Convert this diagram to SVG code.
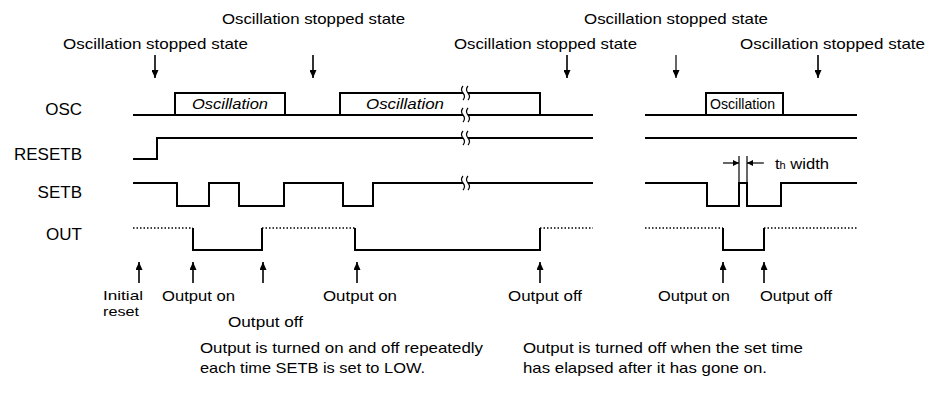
<svg xmlns="http://www.w3.org/2000/svg" width="935" height="405" viewBox="0 0 935 405">
<style>
  text { font-family: "Liberation Sans", Arial, sans-serif; fill: #000; }
  .lbl { font-size: 17px; text-anchor: end; }
  .top { font-size: 15px; }
  .note { font-size: 15px; }
  .small { font-size: 13px; }
  .osc { font-size: 15px; font-style: italic; }
  .w { fill: none; stroke: #000; stroke-width: 2; stroke-linejoin: miter; }
  .dot { fill: none; stroke: #000; stroke-width: 1.3; stroke-dasharray: 1.5 2; }
  .arr { stroke: #000; stroke-width: 1.6; fill: none; }
  .thin { stroke: #000; stroke-width: 1.2; fill: none; }
  .brk { fill: none; stroke: #000; stroke-width: 1.2; }
</style>
<defs>
  <marker id="ah" viewBox="0 0 8 7" refX="8" refY="3.5" markerWidth="8" markerHeight="7" orient="auto" markerUnits="userSpaceOnUse">
    <path d="M0,0 L8,3.5 L0,7 z" fill="#000"/>
  </marker>
  <marker id="ahs" viewBox="0 0 6 6" refX="6" refY="3" markerWidth="6" markerHeight="6" orient="auto" markerUnits="userSpaceOnUse">
    <path d="M0,0 L6,3 L0,6 z" fill="#000"/>
  </marker>
</defs>

<!-- Signal labels -->
<g id="labels">
  <text class="lbl" x="82" y="115">OSC</text>
  <text class="lbl" x="82" y="160">RESETB</text>
  <text class="lbl" x="82" y="198">SETB</text>
  <text class="lbl" x="82" y="240">OUT</text>
</g>

<!-- Top state labels -->
<g id="state-labels">
  <text class="top" x="222" y="24" textLength="183" lengthAdjust="spacingAndGlyphs">Oscillation stopped state</text>
  <text class="top" x="63" y="49" textLength="185" lengthAdjust="spacingAndGlyphs">Oscillation stopped state</text>
  <text class="top" x="584" y="24" textLength="184" lengthAdjust="spacingAndGlyphs">Oscillation stopped state</text>
  <text class="top" x="454" y="49" textLength="183" lengthAdjust="spacingAndGlyphs">Oscillation stopped state</text>
  <text class="top" x="740" y="49" textLength="185" lengthAdjust="spacingAndGlyphs">Oscillation stopped state</text>
</g>

<!-- OSC waveform -->
<g id="osc">
  <path class="w" d="M133,115 H463 M468,115 H593"/>
  <path class="w" d="M175,115 V93 H285 V115"/>
  <path class="w" d="M340,115 V93 H463 M468,93 H540 V115"/>
  <text class="osc" x="192" y="109" textLength="76" lengthAdjust="spacingAndGlyphs">Oscillation</text>
  <text class="osc" x="366" y="109" textLength="78" lengthAdjust="spacingAndGlyphs">Oscillation</text>
  <path class="w" d="M645,115 H857 M706,115 V93 H783 V115"/>
  <text x="710" y="109" font-size="14" textLength="65" lengthAdjust="spacingAndGlyphs">Oscillation</text>
</g>

<!-- RESETB waveform -->
<g id="resetb">
  <path class="w" d="M133,159 H157 V138 H463 M468,138 H593"/>
  <path class="w" d="M645,138 H857"/>
</g>

<!-- SETB waveform -->
<g id="setb">
  <path class="w" d="M133,183 H177 V206 H209 V183 H239 V206 H284 V183 H343 V206 H373 V183 H463 M468,183 H593"/>
  <path class="w" d="M645,183 H707 V206 H739 V183 H747 V206 H781 V183 H857"/>
</g>

<!-- OUT waveform -->
<g id="out">
  <path class="dot" d="M133,228 H193 M262,228 H355 M540,228 H593 M645,228 H723 M764,228 H857"/>
  <path class="w" d="M193,228 V250 H262 V228 M355,228 V250 H540 V228"/>
  <path class="w" d="M723,228 V250 H764 V228"/>
</g>

<!-- Break marks -->
<g id="breaks">
  <path class="brk" d="M463,86 q-3,3.5 0,7 q3,3.5 0,7 M468,86 q-3,3.5 0,7 q3,3.5 0,7"/>
  <path class="brk" d="M463,108 q-3,3.5 0,7 q3,3.5 0,7 M468,108 q-3,3.5 0,7 q3,3.5 0,7"/>
  <path class="brk" d="M463,131 q-3,3.5 0,7 q3,3.5 0,7 M468,131 q-3,3.5 0,7 q3,3.5 0,7"/>
  <path class="brk" d="M463,176 q-3,3.5 0,7 q3,3.5 0,7 M468,176 q-3,3.5 0,7 q3,3.5 0,7"/>
</g>

<!-- Connectors: annotation arrows -->
<g id="connectors">
  <line class="arr" x1="155" y1="55" x2="155" y2="78" marker-end="url(#ah)"/>
  <line class="arr" x1="313" y1="55" x2="313" y2="78" marker-end="url(#ah)"/>
  <line class="arr" x1="567" y1="55" x2="567" y2="78" marker-end="url(#ah)"/>
  <line class="thin" x1="676" y1="55" x2="676" y2="78" marker-end="url(#ah)"/>
  <line class="arr" x1="818" y1="55" x2="818" y2="78" marker-end="url(#ah)"/>

  <line class="arr" x1="139" y1="283" x2="139" y2="262" marker-end="url(#ah)"/>
  <line class="arr" x1="193" y1="283" x2="193" y2="262" marker-end="url(#ah)"/>
  <line class="arr" x1="263" y1="283" x2="263" y2="262" marker-end="url(#ah)"/>
  <line class="arr" x1="357" y1="283" x2="357" y2="262" marker-end="url(#ah)"/>
  <line class="arr" x1="540" y1="283" x2="540" y2="262" marker-end="url(#ah)"/>
  <line class="arr" x1="723" y1="283" x2="723" y2="262" marker-end="url(#ah)"/>
  <line class="arr" x1="764" y1="283" x2="764" y2="262" marker-end="url(#ah)"/>

  <line class="thin" x1="739" y1="156" x2="739" y2="183"/>
  <line class="thin" x1="747" y1="156" x2="747" y2="183"/>
  <line class="thin" x1="723" y1="163" x2="739" y2="163" marker-end="url(#ahs)"/>
  <line class="thin" x1="764" y1="163" x2="747" y2="163" marker-end="url(#ahs)"/>
</g>

<!-- th width label -->
<g id="th-label">
  <text x="775" y="169" font-size="15" textLength="54" lengthAdjust="spacingAndGlyphs">t<tspan font-size="10">h</tspan> width</text>
</g>

<!-- Event labels -->
<g id="event-labels">
  <text class="small" x="103" y="300" textLength="40" lengthAdjust="spacingAndGlyphs">Initial</text>
  <text class="small" x="103" y="316" textLength="36" lengthAdjust="spacingAndGlyphs">reset</text>
  <text class="note" x="162" y="301" textLength="73" lengthAdjust="spacingAndGlyphs">Output on</text>
  <text class="note" x="228" y="327" textLength="75" lengthAdjust="spacingAndGlyphs">Output off</text>
  <text class="note" x="323" y="301" textLength="74" lengthAdjust="spacingAndGlyphs">Output on</text>
  <text class="note" x="508" y="301" textLength="74" lengthAdjust="spacingAndGlyphs">Output off</text>
  <text class="note" x="658" y="301" textLength="72" lengthAdjust="spacingAndGlyphs">Output on</text>
  <text class="note" x="760" y="301" textLength="72" lengthAdjust="spacingAndGlyphs">Output off</text>
</g>

<!-- Bottom explanations -->
<g id="notes">
  <text class="note" x="200" y="353" textLength="283" lengthAdjust="spacingAndGlyphs">Output is turned on and off repeatedly</text>
  <text class="note" x="200" y="373" textLength="225" lengthAdjust="spacingAndGlyphs">each time SETB is set to LOW.</text>
  <text class="note" x="523" y="353" textLength="280" lengthAdjust="spacingAndGlyphs">Output is turned off when the set time</text>
  <text class="note" x="523" y="373" textLength="244" lengthAdjust="spacingAndGlyphs">has elapsed after it has gone on.</text>
</g>
</svg>
